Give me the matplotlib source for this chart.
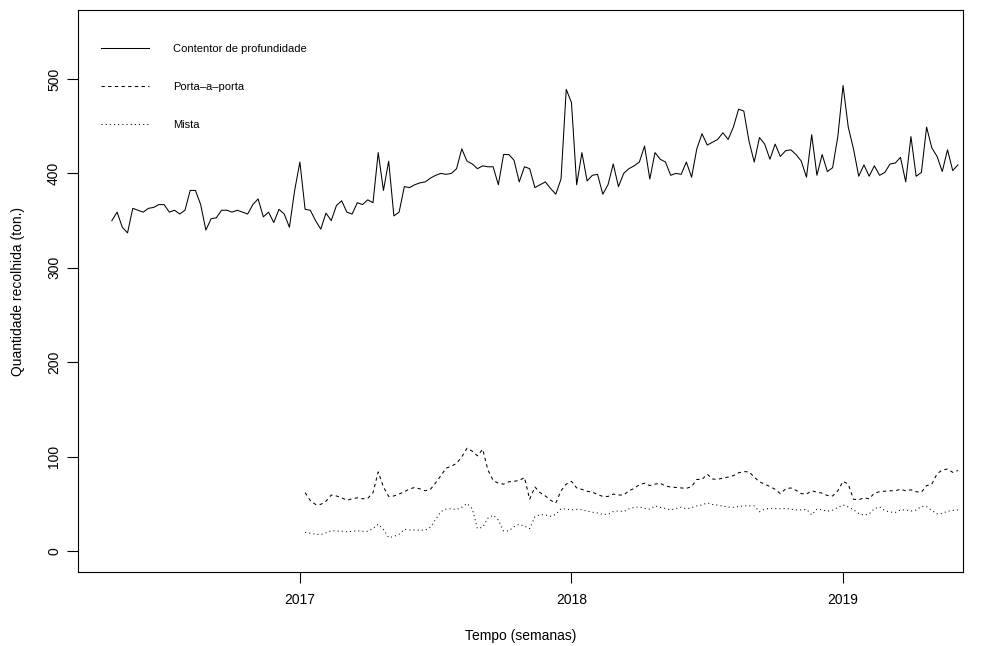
import numpy as np
import matplotlib
matplotlib.use("Agg")
import matplotlib.pyplot as plt

plt.rcParams['font.family'] = ['Liberation Sans', 'DejaVu Sans']

# Weekly series (ton.), frequency 52 per year
FREQ = 52
start_contentor = (2016, 17)
start_outros = (2017, 2)

contentor = [
    350, 359, 343, 337, 363, 361, 359, 363, 364, 367, 367, 359, 361, 357, 361, 382, 382, 367, 340, 352,
    353, 361, 361, 359, 361, 359,
    357, 367, 373, 354, 359, 348, 362, 357, 343, 382, 412, 362, 361, 350, 341, 358, 350, 366, 371, 359,
    357, 369, 367, 372, 369, 422, 382,
    413, 355, 359, 386, 385, 388, 390, 391, 395, 398, 400, 399, 400, 405, 426, 413, 410, 405, 408, 407,
    407, 388, 420, 420, 414, 391, 407,
    405, 385, 388, 391, 384, 378, 394, 489, 475, 388, 422, 392, 398, 399, 378, 388, 410, 386, 400, 405,
    408, 412, 429, 394, 422, 415,
    412, 398, 400, 399, 412, 396, 426, 442, 430, 433, 436, 443, 436, 449, 468, 466, 434, 412, 438, 431,
    415, 431, 418, 424, 425, 420, 413,
    396, 441, 398, 420, 402, 406, 439, 493, 449, 426, 397, 409, 397, 408, 398, 401, 410, 411, 417, 391,
    439, 397, 401, 449, 427, 418, 402, 425, 403, 409,
]

porta_a_porta = [
    62, 53.6, 49.5, 49.6, 53, 59.5, 58.5, 56.5, 54, 55.5, 56.5, 55.5, 56, 62, 84, 68, 58, 58.5, 60.5, 63,
    66, 67.5, 66, 64, 65.5, 72.5, 80, 88, 90, 93,
    100, 109, 106, 101, 108, 86, 75, 72, 71, 73.5, 74, 75, 78, 55, 68, 62, 58.5, 54, 51, 64,
    71, 74, 67, 65.5, 63.5, 62.5, 60, 58, 58, 60.5, 59.5, 59.5,
    64, 66.5, 70.5, 72, 69.5, 71, 72, 69, 68, 67.5, 67, 66.5, 68.5, 76, 76, 81.5, 76.5, 76, 77.5, 78.5,
    80, 83, 84.3, 84, 78.5, 73.5, 71, 68.5, 65.5, 61, 66,
    67, 64.5, 61, 60.5, 64, 62.5, 61.5, 59, 58.5, 64, 74, 71, 55, 54.5, 56.5, 55.5, 61.5, 63, 63.5, 64,
    64, 65.6, 64, 65, 63, 62.5, 69.5, 71, 82, 86, 87, 83.5, 85.5,
]

mista = [
    20, 19, 18, 17.6, 19.5, 21.7, 21.4, 21.2, 20.6, 21, 21.6, 21.2, 21, 24, 28.6, 23, 14.4, 15.6, 18, 23.2,
    22.5, 22.5, 22.3, 22.2, 25.5, 33.8, 42, 44.5, 45, 44,
    46.5, 50.5, 45, 24, 25.4, 35, 38.2, 33, 21.5, 21.5, 26, 28.5, 26.5, 24, 36.5, 38.8, 38.4, 37, 39, 45,
    44.6, 43.8, 44.3, 44, 42.5, 41.3, 40.5, 39, 39, 42, 42.7, 42,
    44.8, 46.4, 47, 45.4, 44.5, 48, 46.5, 45.3, 43.8, 45.2, 46.6, 44.8, 46.2, 48, 49, 51.2, 49.5, 48.8,
    47.8, 46.8, 46.5, 47.3, 48, 48, 48, 41.8, 44.5, 45.4, 45.1, 44.9, 45.3,
    44.5, 43.7, 43.8, 44.4, 38.5, 44.7, 43.9, 42.2, 43.5, 46.4, 49, 46.8, 44, 40, 38.2, 39.5, 45, 47,
    43, 41.5, 41, 43.7, 43.7, 42.5, 43.5, 47.5, 47.3, 43, 39.5, 40.1, 42.4, 43, 43.7,
]

labels = ["Contentor de profundidade", "Porta\u2013a\u2013porta", "Mista"]
year_ticks = [2017, 2018, 2019]
value_ticks = [0, 100, 200, 300, 400, 500]


def ts_time(start, n, freq=FREQ):
    """Decimal-year time index of a regular series."""
    return start[0] + (start[1] - 1) / freq + np.arange(n) / freq


t_c = ts_time(start_contentor, len(contentor))
t_p = ts_time(start_outros, len(porta_a_porta))
t_m = ts_time(start_outros, len(mista))

W, H = 981, 646
fig = plt.figure(figsize=(W / 100, H / 100), dpi=100)
ax = fig.add_axes([78 / W, (H - 572) / H, (963 - 78) / W, (572 - 10) / H])

lw = 0.75
ax.plot(t_c, contentor, color="black", lw=lw, solid_joinstyle="round", label=labels[0])
ax.plot(t_p, porta_a_porta, color="black", lw=lw, linestyle=(0, (3.2, 3.2)), label=labels[1])
ax.plot(t_m, mista, color="black", lw=lw, linestyle=(0, (1, 3)), label=labels[2])

ax.set_xlim(2016.183, 2019.4417)
ax.set_ylim(-22, 573)

ax.set_xticks(year_ticks)
ax.set_xticklabels([str(y) for y in year_ticks])
ax.set_yticks(value_ticks)
ax.set_yticklabels([str(v) for v in value_ticks], rotation=90, va="center")
ax.tick_params(axis="both", direction="out", length=8, width=0.8, labelsize=10,
               color="black", labelcolor="black")
ax.tick_params(axis="x", pad=7.1)
ax.tick_params(axis="y", pad=4.2)

for s in ax.spines.values():
    s.set_linewidth(0.8)
    s.set_color("black")

ax.set_xlabel("Tempo (semanas)", fontsize=10, labelpad=15.8)
ax.set_ylabel("Quantidade recolhida (ton.)", fontsize=10, labelpad=16.2)

leg = ax.legend(loc="upper left", bbox_to_anchor=(0.0148, 0.958), frameon=False,
                fontsize=8, handlelength=4.3, handletextpad=2.2, labelspacing=2.55,
                borderaxespad=0.5)

fig.savefig("out.png", dpi=100, facecolor="white")
